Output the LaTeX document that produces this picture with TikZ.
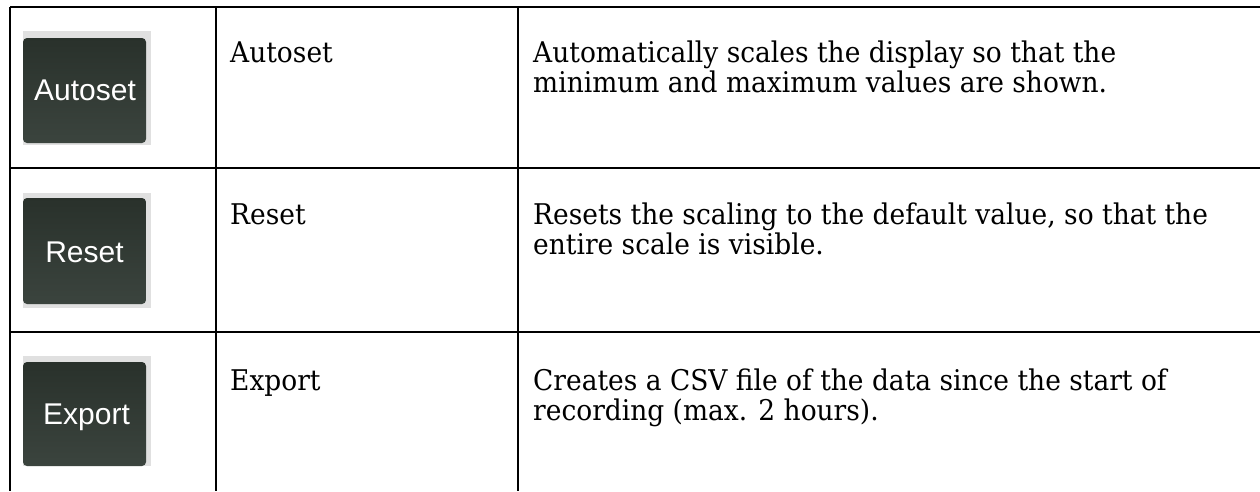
\documentclass[tikz,border=0pt]{standalone}
\usepackage{fontspec}
\setmainfont{DejaVu Serif}
\newfontfamily\btnfont{Liberation Sans}
\definecolor{btngray}{HTML}{E0E0E0}
\definecolor{btntop}{HTML}{29312B}
\definecolor{btnbot}{HTML}{3B443E}
\newlength\myreflen
\begin{document}
\settowidth\myreflen{\fontsize{28.5}{30}\selectfont Automatically scales the display so that the}
\pgfmathsetmacro\mystretch{583/\myreflen}
\edef\mydofont{\noexpand\newfontfamily\noexpand\descfont{DejaVu Serif}[FakeStretch=\mystretch]}
\mydofont
\begin{tikzpicture}[x=1pt,y=-1pt,
  rule/.style={line width=2.7pt, black},
  btnbg/.style={fill=btngray},
  btnface/.style={rounded corners=4pt, top color=btntop, bottom color=btnbot, draw=none},
  btntext/.style={anchor=base, inner sep=0pt, text=white, font=\btnfont\fontsize{30}{32}\selectfont},
  celltext/.style={anchor=base west, inner sep=0pt, font=\descfont\fontsize{28.5}{30}\selectfont}]
\useasboundingbox (0,0) rectangle (1260,491);
\fill[white] (0,0) rectangle (1260,491);
% grid
\coordinate (tl) at (10,7);
\coordinate (tr) at (1260,7);
\coordinate (r1l) at (10,168);
\coordinate (r1r) at (1260,168);
\coordinate (r2l) at (10,332);
\coordinate (r2r) at (1260,332);
\coordinate (c0t) at (10,7);
\coordinate (c0b) at (10,491);
\coordinate (c1t) at (216,7);
\coordinate (c1b) at (216,491);
\coordinate (c2t) at (518,7);
\coordinate (c2b) at (518,491);
\draw[rule] (tl) -- (tr);
\draw[rule] (r1l) -- (r1r);
\draw[rule] (r2l) -- (r2r);
\draw[rule] (c0t) -- (c0b);
\draw[rule] (c1t) -- (c1b);
\draw[rule] (c2t) -- (c2b);
% buttons
\fill[btnbg] (23,31) rectangle (151,145);
\path[btnface] (23,38) rectangle (146,143);
\node[btntext] (b1) at (85,100) {Autoset};
\fill[btnbg] (23,193) rectangle (151,308);
\path[btnface] (23,198) rectangle (146,304);
\node[btntext] (b2) at (84.5,262) {Reset};
\fill[btnbg] (23,356) rectangle (151,466);
\path[btnface] (23,362) rectangle (146,466);
\node[btntext] (b3) at (86.5,424) {Export};
% names
\node[celltext] (n1) at (230,62) {Autoset};
\node[celltext] (n2) at (230,224) {Reset};
\node[celltext] (n3) at (230,390) {Export};
% descriptions
\node[celltext] (d1a) at (533,62) {Automatically scales the display so that the};
\node[celltext] (d1b) at (533,92) {minimum and maximum values are shown.};
\node[celltext] (d2a) at (533,224) {Resets the scaling to the default value, so that the};
\node[celltext] (d2b) at (533,254) {entire scale is visible.};
\node[celltext] (d3a) at (533,390) {Creates a CSV file of the data since the start of};
\node[celltext] (d3b) at (533,420) {recording (max. 2 hours).};
\end{tikzpicture}
\end{document}
